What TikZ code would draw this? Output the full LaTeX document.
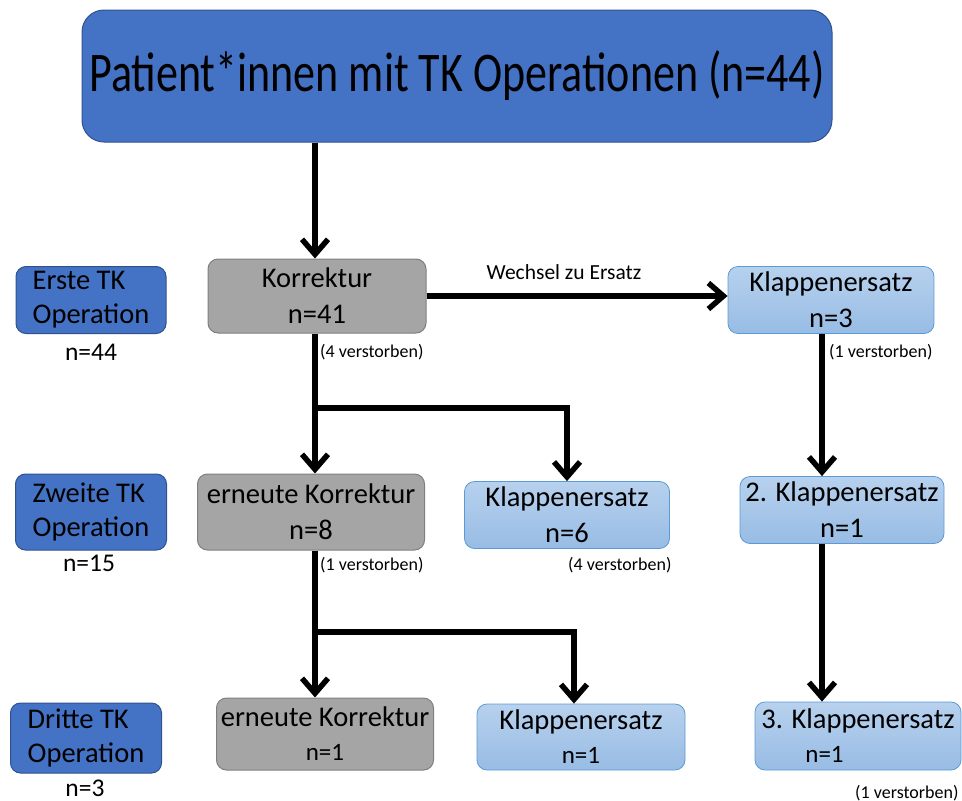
\documentclass[tikz,border=0pt]{standalone}
\usepackage{fontspec}
\setmainfont{Carlito}
\usepackage{xcolor}
\usetikzlibrary{arrows.meta}

\definecolor{opblue}{HTML}{4472C4}
\definecolor{opborder}{HTML}{2F528F}
\definecolor{korrgray}{HTML}{A5A5A5}
\definecolor{korrborder}{HTML}{7F7F7F}
\definecolor{ersatztop}{HTML}{B7D1EE}
\definecolor{ersatzbot}{HTML}{98BCE4}
\definecolor{ersatzborder}{HTML}{5B9BD5}

\begin{document}
\begin{tikzpicture}[x=1pt,y=-1pt,
        opbox/.style={draw=opborder, fill=opblue, line width=1pt, rounded corners=10pt,
            inner sep=0pt, align=left, font=\fontsize{28.5}{34}\selectfont},
        korrbox/.style={draw=korrborder, fill=korrgray, line width=1pt, rounded corners=10pt,
            inner sep=0pt, align=center, font=\fontsize{28.5}{36}\selectfont},
        ersatzbox/.style={draw=ersatzborder, top color=ersatztop, bottom color=ersatzbot,
            line width=0.8pt, rounded corners=10pt, inner sep=0pt, align=center,
            font=\fontsize{28.5}{36}\selectfont},
        flow/.style={line width=5.5pt, -{Straight Barb[length=15pt,width=26pt]}},
        note/.style={inner sep=0pt, font=\fontsize{18}{20}\selectfont},
        count/.style={inner sep=0pt, font=\fontsize{25.5}{28}\selectfont}]
        \useasboundingbox (0,0) rectangle (962,801);

        % top box
        \node[draw=opborder, fill=opblue, line width=1pt, rounded corners=22pt,
            minimum width=750pt, minimum height=132pt, inner sep=0pt] (title) at (457,76)
            {\scalebox{0.786}[1]{\fontsize{56}{60}\selectfont Patient*innen mit TK Operationen (n=44)}};

        % left column
        \node[opbox, minimum width=150pt, minimum height=67pt] (op1) at (91,300) {Erste TK\\Operation};
        \node[opbox, minimum width=151pt, minimum height=76pt] (op2) at (91,512) {Zweite TK\\Operation};
        \node[opbox, minimum width=151pt, minimum height=70pt] (op3) at (86,738) {Dritte TK\\Operation};
        \node[count] (n1) at (91,352) {n=44};
        \node[count] (n2) at (89,563) {n=15};
        \node[count] (n3) at (85,788) {n=3};

        % first operation
        \node[korrbox, minimum width=218pt, minimum height=74pt] (korr1) at (317,296) {Korrektur\\n=41};
        \node[ersatzbox, minimum width=206pt, minimum height=67pt] (ers1) at (831,300) {Klappenersatz\\n=3};

        % second operation
        \node[korrbox, minimum width=227pt, minimum height=76pt] (korr2) at (311,512) {erneute Korrektur\\n=8};
        \node[ersatzbox, minimum width=205pt, minimum height=67pt] (ers2) at (567,515) {Klappenersatz\\n=6};
        \node[ersatzbox, minimum width=204pt, minimum height=67pt] (ers2b) at (842,510) {2. Klappenersatz\\n=1};

        % third operation
        \node[korrbox, minimum width=217pt, minimum height=72pt, font=\fontsize{28.5}{34}\selectfont] (korr3) at (325,734)
            {erneute Korrektur\\{\fontsize{25}{28}\selectfont n=1}};
        \node[ersatzbox, minimum width=208pt, minimum height=66pt, font=\fontsize{28.5}{34}\selectfont] (ers3) at (581,737)
            {Klappenersatz\\{\fontsize{25}{28}\selectfont n=1}};
        \node[ersatzbox, minimum width=206pt, minimum height=68pt, font=\fontsize{28.5}{34}\selectfont] (ers3b) at (858,736)
            {3. Klappenersatz\\{\fontsize{25}{28}\selectfont n=1\hspace*{67pt}}};

        % notes
        \node[note, anchor=west] (tot1) at (320,352) {(4 verstorben)};
        \node[note, anchor=west] (tot2) at (829,352) {(1 verstorben)};
        \node[note, anchor=west] (tot3) at (320,565) {(1 verstorben)};
        \node[note, anchor=west] (tot4) at (568,565) {(4 verstorben)};
        \node[note, anchor=west] (tot5) at (855,793) {(1 verstorben)};
        \node[inner sep=0pt, font=\fontsize{21.5}{24}\selectfont] (wechsel) at (564,272) {Wechsel zu Ersatz};

        \coordinate (br1) at (315,408);
        \coordinate (br2) at (315,632);

        \draw[flow] (title.south -| br1) -- (br1 |- korr1.north);
        \draw[flow] (korr1.east) -- (korr1.east -| ers1.west);
        \draw[flow] (br1 |- korr1.south) -- (br1 |- korr2.north);
        \draw[flow] (br1) -| (ers2.north);
        \draw[flow] ([xshift=-9pt]ers1.south) -- ([xshift=-9pt]ers1.south |- ers2b.north);
        \draw[flow] (br2 |- korr2.south) -- (br2 |- korr3.north);
        \draw[flow] (br2) -| ([xshift=-7pt]ers3.north);
        \draw[flow] ([xshift=-20pt]ers2b.south) -- ([xshift=-20pt]ers2b.south |- ers3b.north);
    \end{tikzpicture}
\end{document}
